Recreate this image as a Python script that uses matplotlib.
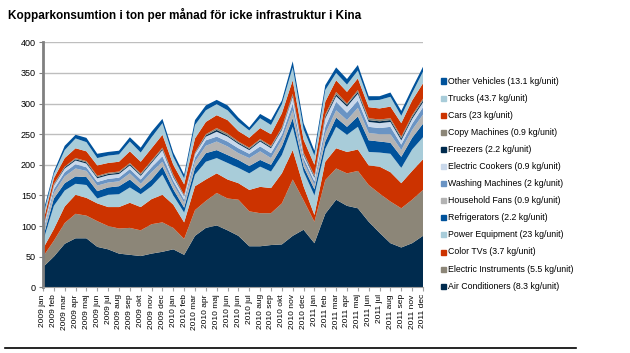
import matplotlib
matplotlib.use("Agg")
import matplotlib.pyplot as plt
from matplotlib.patches import Rectangle
from matplotlib.lines import Line2D

plt.rcParams['font.family'] = ['Liberation Sans', 'DejaVu Sans']

# month labels as printed on the original (2010 jun twice, no 2011 okt)
months = (["2009 " + m for m in ["jan", "feb", "mar", "apr", "maj", "jun", "jul", "aug", "sep", "okt", "nov", "dec"]]
          + ["2010 " + m for m in ["jan", "feb", "mar", "apr", "maj", "jun", "jun", "jul", "aug", "sep", "okt", "nov", "dec"]]
          + ["2011 " + m for m in ["jan", "feb", "mar", "apr", "maj", "jun", "jul", "aug", "sep", "nov", "dec"]])

# tons per month, bottom series first
air_cond = [33, 50, 71, 80, 80, 66, 62, 55, 53, 51, 55, 58, 62, 53, 84, 97, 101, 93, 84, 67, 67, 69, 70, 84, 94, 72,
            120, 143, 133, 129, 107, 89, 72, 65, 72, 84]
elec_instr = [17, 26, 34, 40, 37, 42, 38, 41, 44, 42, 48, 48, 35, 26, 42, 44, 53, 52, 59, 57, 54, 52, 67, 92, 48, 35,
              55, 51, 53, 61, 60, 64, 68, 64, 71, 75]
color_tv = [13, 19, 27, 31, 29, 29, 31, 35, 41, 38, 41, 45, 38, 27, 39, 35, 32, 31, 27, 35, 43, 41, 49, 48, 23, 11,
            30, 33, 35, 35, 32, 44, 48, 41, 47, 50]
power_eq = [12, 38, 26, 18, 21, 8, 20, 21, 25, 21, 21, 33, 15, 16, 19, 29, 25, 27, 25, 27, 33, 27, 30, 38, 24, 32,
            21, 35, 28, 37, 22, 23, 30, 25, 35, 36]
fridges = [6, 12, 12, 12, 13, 12, 12, 13, 13, 9, 11, 13, 10, 8, 11, 14, 13, 13, 13, 12, 11, 11, 14, 14, 8, 10,
           12, 15, 13, 17, 19, 18, 18, 18, 19, 22]
fans = [6, 9, 11, 13, 10, 9, 8, 8, 10, 8, 12, 8, 8, 8, 10, 12, 14, 14, 11, 13, 14, 11, 11, 13, 8, 7,
        13, 12, 11, 14, 12, 12, 14, 11, 13, 15]
washers = [4, 6, 7, 7, 6, 6, 6, 6, 7, 7, 8, 9, 6, 5, 7, 9, 8, 8, 8, 7, 8, 8, 8, 11, 6, 6,
           11, 14, 12, 12, 10, 10, 12, 9, 10, 12]
cookers = [4, 6, 6, 6, 6, 6, 6, 6, 6, 6, 7, 10, 6, 6, 6, 6, 8, 8, 7, 6, 8, 8, 8, 11, 5, 6,
           14, 9, 10, 11, 8, 8, 8, 7, 8, 8]
freezers = [1, 1, 2, 2, 2, 2, 2, 2, 2, 2, 2, 2, 2, 1, 1, 2, 3, 2, 2, 2, 2, 2, 2, 2, 2, 2,
            3, 3, 3, 3, 3, 3, 3, 3, 3, 3]
copiers = [1, 2, 1, 2, 2, 2, 2, 2, 2, 2, 2, 2, 2, 1, 1, 2, 3, 3, 2, 2, 2, 2, 2, 3, 2, 2,
           3, 4, 2, 3, 3, 3, 3, 3, 3, 3]
cars = [9, 9, 14, 16, 16, 17, 16, 16, 19, 19, 20, 21, 16, 17, 23, 20, 21, 22, 17, 16, 18, 19, 23, 22, 21, 17,
        21, 19, 19, 19, 18, 18, 19, 22, 24, 25]
trucks = [10, 7, 13, 16, 15, 12, 12, 12, 16, 15, 18, 19, 13, 10, 22, 19, 18, 16, 15, 12, 16, 15, 15, 21, 17, 15,
          19, 12, 12, 13, 11, 14, 16, 12, 12, 19]
other_veh = [6, 4, 7, 6, 7, 7, 6, 6, 7, 8, 9, 7, 7, 6, 8, 8, 7, 8, 7, 5, 7, 8, 6, 10, 10, 8,
             8, 9, 9, 9, 7, 6, 7, 8, 8, 8]

labels = ["Air Conditioners (8.3 kg/unit)", "Electric Instruments (5.5 kg/unit)", "Color TVs (3.7 kg/unit)",
          "Power Equipment (23 kg/unit)", "Refrigerators (2.2 kg/unit)", "Household Fans (0.9 kg/unit)",
          "Washing Machines (2 kg/unit)", "Electric Cookers (0.9 kg/unit)", "Freezers (2.2 kg/unit)",
          "Copy Machines (0.9 kg/unit)", "Cars (23 kg/unit)", "Trucks (43.7 kg/unit)",
          "Other Vehicles (13.1 kg/unit)"]

navy, brown, red, lblue, blue = "#002B4E", "#8C8678", "#CC3300", "#A8CCD9", "#00529B"
colors = [navy, brown, red, lblue, blue, "#B3B3B3", "#6A94C4", "#C9D8EB", navy, brown, red, lblue, blue]

series = [air_cond, elec_instr, color_tv, power_eq, fridges, fans, washers, cookers,
          freezers, copiers, cars, trucks, other_veh]

fig = plt.figure(figsize=(6.3, 3.53), dpi=100)
ax = fig.add_axes([43 / 630, 1 - 287.3 / 353, 380 / 630, 245 / 353])

x = list(range(len(months)))
ax.stackplot(x, *series, colors=colors, linewidth=0)

ax.set_xlim(0, len(months) - 1)
ax.set_ylim(0, 400)
ax.set_yticks(range(0, 401, 50))
ax.yaxis.grid(True, color="#BEBEBE", linewidth=1)
ax.set_axisbelow(True)
ax.set_xticks(x)
ax.set_xticklabels(months, rotation=90, fontsize=6)
ax.tick_params(axis="y", labelsize=6.5, length=3, color="#808080", pad=2)
ax.tick_params(axis="x", length=3, color="#A0A0A0", pad=2)
for s in ["top", "right"]:
    ax.spines[s].set_visible(False)
ax.spines["left"].set_color("#808080")
ax.spines["left"].set_linewidth(2)
ax.spines["bottom"].set_color("#A0A0A0")

fig.text(8 / 630, 1 - 15 / 353, "Kopparkonsumtion i ton per månad för icke infrastruktur i Kina",
         fontsize=8.5, fontweight="bold", va="center", ha="left")

# legend, top entry is the top of the stack
for k in range(13):
    idx = 12 - k
    yc = 81 + k * 17.1
    fig.patches.append(Rectangle((441 / 630, 1 - (yc + 2.5) / 353), 5 / 630, 5 / 353,
                                 transform=fig.transFigure, color=colors[idx]))
    fig.text(448 / 630, 1 - yc / 353, labels[idx], fontsize=6.3, va="center", ha="left")

fig.lines.append(Line2D([5 / 630, 576 / 630], [1 - 348 / 353, 1 - 348 / 353],
                        transform=fig.transFigure, color="black", linewidth=1.2))

fig.savefig("out.png", dpi=100)
